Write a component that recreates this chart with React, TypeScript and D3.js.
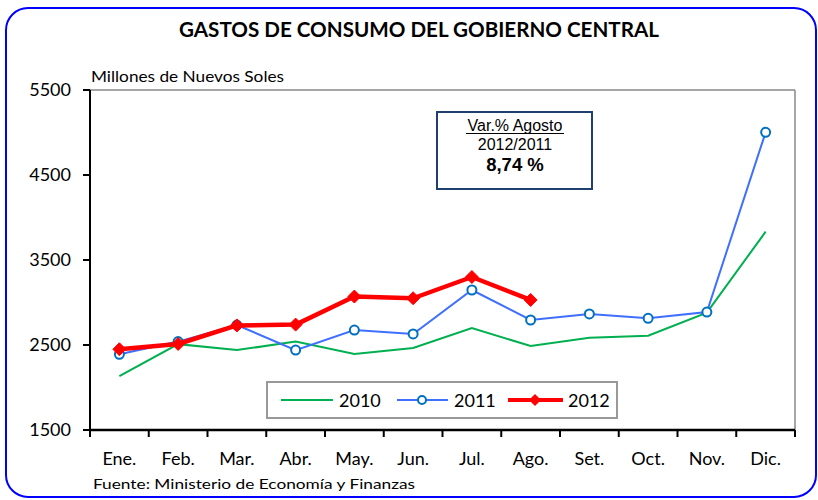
import React from "react";
import * as d3 from "d3";

const months = ["Ene.", "Feb.", "Mar.", "Abr.", "May.", "Jun.", "Jul.", "Ago.", "Set.", "Oct.", "Nov.", "Dic."];
const yTicks = [1500, 2500, 3500, 4500, 5500];
const s2010 = [2135, 2510, 2440, 2540, 2395, 2465, 2700, 2488, 2586, 2610, 2880, 3833];
const s2011 = [2390, 2540, 2735, 2440, 2676, 2630, 3147, 2794, 2865, 2814, 2888, 5002];
const s2012 = [2450, 2512, 2730, 2740, 3070, 3050, 3300, 3030];

const W = 818, H = 500;
const L = 90, R = 795, T = 90, B = 430;

export default function App() {
  const x = d3.scaleBand<string>().domain(months).range([L, R]);
  const y = d3.scaleLinear().domain([1500, 5500]).range([B, T]);
  const cx = (i: number) => (x(months[i]) as number) + x.bandwidth() / 2;
  const line = d3.line<number>().x((_, i) => cx(i)).y((d) => y(d));
  const calibri = "Lato, 'Open Sans', sans-serif";
  const arial = "'Liberation Sans', Arial, sans-serif";
  const diamond = (px: number, py: number, r = 6) =>
    `M${px},${py - r}L${px + r},${py}L${px},${py + r}L${px - r},${py}Z`;

  return (
    <svg width={W} height={H} style={{ position: "absolute", left: 0, top: 0 }}>
      <rect x={0} y={0} width={W} height={H} fill="#fff" />
      <rect x={6} y={8} width={810} height={489} rx={22} ry={22} fill="#fff" stroke="#0000FF" strokeWidth={2} />
      <text x={419} y={37} textAnchor="middle" fontFamily={calibri} fontWeight="bold" fontSize={20}
        textLength={480} lengthAdjust="spacingAndGlyphs" fill="#000">
        GASTOS DE CONSUMO DEL GOBIERNO CENTRAL
      </text>
      <text x={91} y={82} fontFamily={calibri} fontSize={14.5} fill="#000" textLength={193} lengthAdjust="spacingAndGlyphs">
        Millones de Nuevos Soles
      </text>

      {/* frame */}
      <line x1={L} x2={R} y1={T} y2={T} stroke="#888" strokeWidth={1.5} />
      <line x1={R} x2={R} y1={T} y2={B} stroke="#888" strokeWidth={1.5} />

      {/* y axis */}
      <line x1={L} x2={L} y1={T} y2={B} stroke="#000" strokeWidth={2} />
      {yTicks.map((t) => (
        <g key={t}>
          <line x1={L - 7} x2={L} y1={y(t)} y2={y(t)} stroke="#000" strokeWidth={2} />
          <text x={71} y={y(t) + 6} textAnchor="end" fontFamily={calibri} fontSize={18} fill="#000">{t}</text>
        </g>
      ))}

      {/* x axis */}
      <line x1={L} x2={R} y1={B} y2={B} stroke="#000" strokeWidth={2.5} />
      {d3.range(months.length + 1).map((i) => {
        const px = L + i * x.bandwidth();
        return <line key={i} x1={px} x2={px} y1={B} y2={B + 7} stroke="#000" strokeWidth={2} />;
      })}
      {months.map((m, i) => (
        <text key={m} x={cx(i)} y={465} textAnchor="middle" fontFamily={calibri} fontSize={18} fill="#000">{m}</text>
      ))}

      <text x={93} y={489} fontFamily={calibri} fontSize={14} fill="#000" textLength={322} lengthAdjust="spacingAndGlyphs">
        Fuente: Ministerio de Economía  y Finanzas
      </text>

      {/* series */}
      <path d={line(s2010) || ""} fill="none" stroke="#00B050" strokeWidth={2} />
      <path d={line(s2011) || ""} fill="none" stroke="#3F6FFF" strokeWidth={2} />
      {s2011.map((v, i) => (
        <circle key={i} cx={cx(i)} cy={y(v)} r={4.5} fill="#fff" stroke="#0070C0" strokeWidth={2} />
      ))}
      <path d={line(s2012) || ""} fill="none" stroke="#FF0000" strokeWidth={4.5} strokeLinejoin="round" />
      {s2012.map((v, i) => (
        <path key={i} d={diamond(cx(i), y(v), 6.5)} fill="#FF0000" stroke="#FF0000" strokeWidth={1} />
      ))}

      {/* annotation box */}
      <rect x={437} y={112} width={155} height={77} fill="#fff" stroke="#1F3F6F" strokeWidth={2} />
      <text x={515} y={131} textAnchor="middle" fontFamily={arial} fontSize={16} fill="#000">Var.% Agosto</text>
      <line x1={466} x2={564} y1={133.5} y2={133.5} stroke="#000" strokeWidth={1.2} />
      <text x={515} y={150} textAnchor="middle" fontFamily={arial} fontSize={16} fill="#000">2012/2011</text>
      <text x={515} y={171} textAnchor="middle" fontFamily={arial} fontWeight="bold" fontSize={18.5} fill="#000">8,74 %</text>

      {/* legend */}
      <rect x={267} y={382} width={350} height={36} fill="#fff" stroke="#999" strokeWidth={2} />
      <line x1={281} x2={333} y1={400} y2={400} stroke="#00B050" strokeWidth={2} />
      <text x={339} y={407} fontFamily={calibri} fontSize={18} fill="#000">2010</text>
      <line x1={397} x2={448} y1={400} y2={400} stroke="#3F6FFF" strokeWidth={2} />
      <circle cx={422} cy={400} r={4} fill="#fff" stroke="#0070C0" strokeWidth={2} />
      <text x={454} y={407} fontFamily={calibri} fontSize={18} fill="#000">2011</text>
      <line x1={508} x2={563} y1={400} y2={400} stroke="#FF0000" strokeWidth={4} />
      <path d={diamond(535, 400, 6)} fill="#FF0000" />
      <text x={568} y={407} fontFamily={calibri} fontSize={18} fill="#000">2012</text>
    </svg>
  );
}
